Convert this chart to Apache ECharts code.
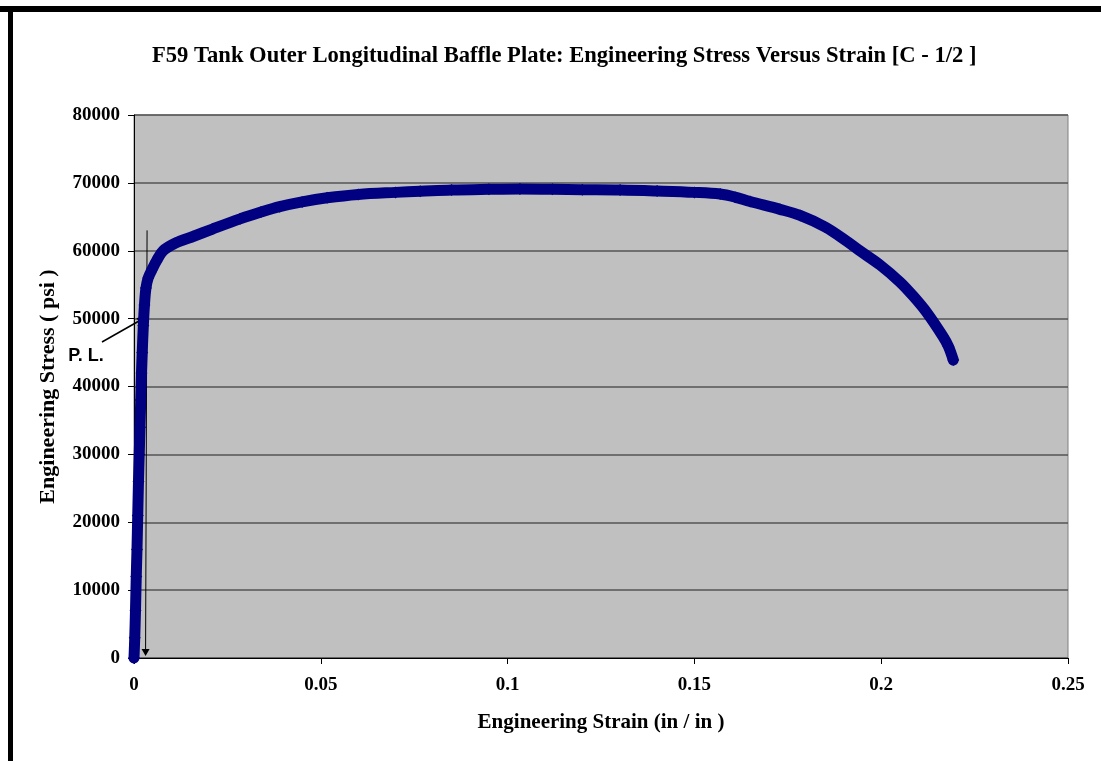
<!DOCTYPE html>
<html>
<head>
<meta charset="utf-8">
<script src="https://cdn.jsdelivr.net/npm/echarts@6/dist/echarts.min.js"></script>
<style>
  html, body { margin: 0; padding: 0; background: #fff; }
  #chart { width: 1101px; height: 761px; }
</style>
</head>
<body>
<div id="chart"></div>
<script>
// values
var strain = [0, 0.0002, 0.0004, 0.0006, 0.0008, 0.0010, 0.0012, 0.0014, 0.0016, 0.0018,
    0.0020, 0.0022, 0.0025, 0.0028, 0.0032, 0.0038, 0.0048, 0.0060, 0.0078, 0.0110,
    0.0158, 0.0210, 0.0284, 0.0340, 0.0390, 0.0450, 0.0517, 0.0600, 0.0700, 0.0766,
    0.0850, 0.0950, 0.1033, 0.1120, 0.1200, 0.1301, 0.1400, 0.1500, 0.1569, 0.1609,
    0.1649, 0.1729, 0.1783, 0.1850, 0.1908, 0.1940, 0.1997, 0.2050, 0.2086, 0.2122,
    0.2165, 0.2180, 0.2193];
var stress = [0, 3000, 7000, 12000, 16000, 21000, 26000, 30000, 34000, 38000,
    42000, 45000, 49000, 52000, 54500, 56000, 57200, 58500, 60000, 61100,
    62100, 63200, 64700, 65700, 66500, 67200, 67800, 68300, 68600, 68750,
    68950, 69050, 69100, 69050, 69000, 68950, 68800, 68600, 68350, 67900,
    67250, 66100, 65200, 63500, 61400, 60100, 57900, 55400, 53300, 50900,
    47400, 45900, 43900];
var xTicks = [0, 0.05, 0.1, 0.15, 0.2, 0.25];
var yTicks = [0, 10000, 20000, 30000, 40000, 50000, 60000, 70000, 80000];

var serif = '"Liberation Serif", "Times New Roman", serif';
var points = strain.map(function (s, i) { return [s, stress[i]]; });

var myChart = echarts.init(document.getElementById('chart'));
var option = {
    animation: false,
    title: {
        text: 'F59 Tank Outer Longitudinal Baffle Plate: Engineering Stress Versus Strain [C - 1/2 ]',
        left: 147,
        top: 40,
        textStyle: {fontFamily: serif, fontWeight: 'bold', fontSize: 22.6, color: '#000'}
    },
    grid: {left: 134, top: 115, right: 33, bottom: 103, show: true,
        backgroundColor: '#c0c0c0', borderColor: '#808080', borderWidth: 1},
    xAxis: {
        type: 'value', min: xTicks[0], max: xTicks[xTicks.length - 1], interval: 0.05,
        name: 'Engineering Strain (in / in )', nameLocation: 'middle', nameGap: 54,
        nameTextStyle: {fontFamily: serif, fontWeight: 'bold', fontSize: 21, color: '#000'},
        axisLine: {lineStyle: {color: '#000', width: 1}},
        axisTick: {show: true, inside: false, length: 6, lineStyle: {color: '#000'}},
        axisLabel: {fontFamily: serif, fontWeight: 'bold', fontSize: 19, color: '#000', margin: 18},
        splitLine: {show: false}
    },
    yAxis: {
        type: 'value', min: yTicks[0], max: yTicks[yTicks.length - 1], interval: 10000,
        name: 'Engineering Stress ( psi )', nameLocation: 'middle', nameGap: 75, nameRotate: 90,
        nameTextStyle: {fontFamily: serif, fontWeight: 'bold', fontSize: 22, color: '#000'},
        axisLine: {show: true, lineStyle: {color: '#000', width: 1}},
        axisTick: {show: true, length: 6, lineStyle: {color: '#000'}},
        axisLabel: {fontFamily: serif, fontWeight: 'bold', fontSize: 19, color: '#000', margin: 14,
            formatter: function (v) { return String(v); }},
        splitLine: {show: true, lineStyle: {color: '#555', width: 1.5}}
    },
    series: [{
        type: 'line',
        data: points,
        symbol: 'diamond',
        symbolSize: 12,
        smooth: 0.35,
        clip: false,
        itemStyle: {color: '#000080'},
        lineStyle: {color: '#000080', width: 11, cap: 'round', join: 'round'}
    }]
};
myChart.setOption(option);

// frame and P. L. annotation, positioned from the axes
var tip = myChart.convertToPixel({gridIndex: 0}, [0.0033, 50500]);
var top0 = myChart.convertToPixel({gridIndex: 0}, [0.0035, 63000]);
var bot0 = myChart.convertToPixel({gridIndex: 0}, [0.0031, 0]);
myChart.setOption({
    graphic: [
        {type: 'rect', shape: {x: 0, y: 6, width: 1101, height: 6}, style: {fill: '#000'}},
        {type: 'rect', shape: {x: 8, y: 6, width: 5, height: 755}, style: {fill: '#000'}},
        {type: 'line', shape: {x1: top0[0], y1: top0[1], x2: bot0[0], y2: bot0[1] - 8},
            style: {stroke: '#000', lineWidth: 1}},
        {type: 'polygon', shape: {points: [[bot0[0] - 4, bot0[1] - 9], [bot0[0] + 4, bot0[1] - 9], [bot0[0], bot0[1] - 2]]},
            style: {fill: '#000'}},
        {type: 'line', shape: {x1: 102, y1: 342, x2: tip[0] - 6, y2: tip[1] + 5},
            style: {stroke: '#000', lineWidth: 1.5}},
        {type: 'polygon', shape: {points: [[tip[0], tip[1]], [tip[0] - 10, tip[1] + 3], [tip[0] - 5, tip[1] + 9]]},
            style: {fill: '#000'}},
        {type: 'text', x: 86, y: 356, style: {text: 'P. L.', fill: '#000', align: 'center', verticalAlign: 'middle',
            font: 'bold 18px "Liberation Sans", Arial, sans-serif'}}
    ]
});
</script>
</body>
</html>
